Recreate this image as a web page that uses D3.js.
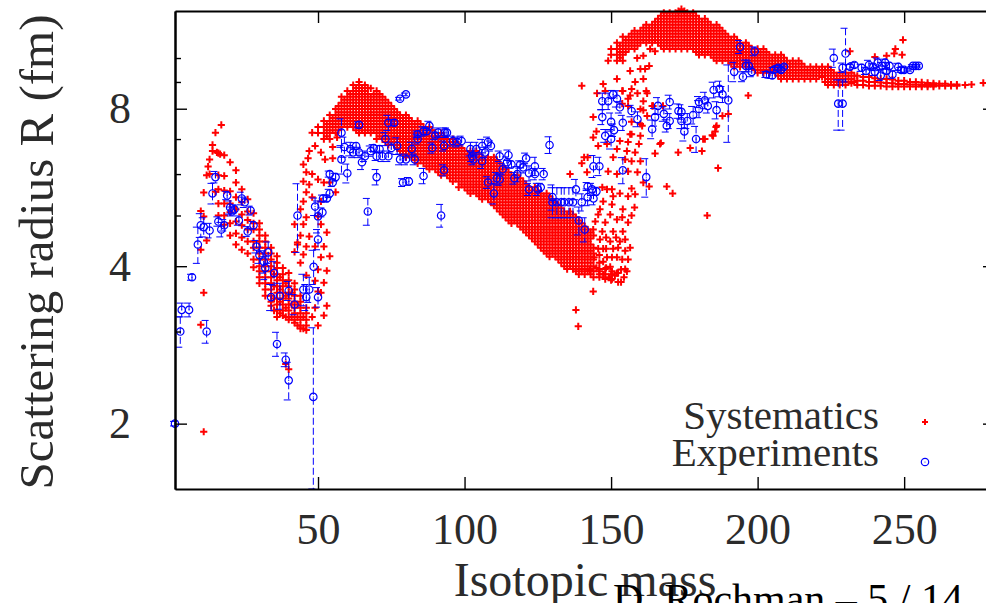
<!DOCTYPE html>
<html>
<head>
<meta charset="utf-8">
<script src="https://cdn.jsdelivr.net/npm/d3@7"></script>
<style>
  html, body { margin: 0; padding: 0; background: #fff; overflow: hidden; }
  text { font-family: "Liberation Serif", serif; fill: #2b2b2b; }
</style>
</head>
<body>
<div id="chart"></div>
<script>
// each row: isotopic mass, then the radii read at that mass
const sysFalling = [
  [16,6.58,5.97,5.61,5.27,5.0],
  [18,6.52,5.95,5.58,5.27,5.0,4.8],
  [20,6.32,5.56,5.27,5.07,4.83,4.58],
  [22,6.1,5.78,5.42,5.14,4.87,4.62,4.4],
  [24,5.61,5.3,5.02,4.79,4.54,4.3],
  [26,5.37,5.09,4.9,4.7,4.46,4.23],
  [28,5.05,4.83,4.7,4.46,4.34,4.12,3.98],
  [30,4.83,4.7,4.58,4.46,4.34,4.23,4.12,4.0,3.91,3.81,3.71],
  [32,4.58,4.46,4.34,4.23,4.12,4.0,3.91,3.81,3.71,3.61,3.51],
  [34,4.34,4.23,4.12,4.0,3.91,3.81,3.71,3.61,3.51,3.42,3.36],
  [36,4.18,4.06,3.97,3.86,3.76,3.66,3.56,3.47,3.38,3.29,3.2],
  [38,3.97,3.86,3.76,3.66,3.56,3.47,3.38,3.29,3.22],
  [40,3.88,3.76,3.66,3.56,3.47,3.38,3.29,3.2,3.16],
  [42,3.71,3.61,3.51,3.42,3.33,3.25,3.16,3.12],
  [44,3.51,3.42,3.33,3.25,3.16,3.08,3.04],
  [46,3.33,3.25,3.16,3.08,3.02],
  [35,3.86,3.66,3.47,3.29],
  [37,3.81,3.61,3.42,3.25],
  [39,3.71,3.51,3.33,3.2],
  [41,3.56,3.38,3.2],
  [43,3.38,3.2,3.08],
  [45,3.2,3.04]
];

const sysMiddle = [
  [50,7.38,7.19],
  [52,7.58,7.38,7.19,7.0],
  [54,7.78,7.58,7.38,7.19],
  [56,7.99,7.78,7.58,7.38,7.19],
  [58,8.43,8.21,7.99,7.78,7.58,7.38],
  [60,8.65,8.43,8.21,7.99,7.78,7.58,7.38],
  [62,8.88,8.65,8.43,8.21,7.99,7.78,7.58,7.38],
  [64,9.0,8.88,8.65,8.43,8.21,7.99,7.78,7.58,7.38,7.19],
  [66,8.88,8.65,8.43,8.21,7.99,7.78,7.58,7.38,7.19],
  [68,8.75,8.43,8.21,7.99,7.78,7.58,7.38,7.19],
  [70,8.65,8.43,8.21,7.99,7.78,7.58,7.38,7.19,7.0],
  [72,8.43,8.21,7.99,7.78,7.58,7.38,7.19,7.0],
  [74,8.21,7.99,7.78,7.58,7.38,7.19,7.0,6.82],
  [76,7.99,7.78,7.58,7.38,7.19,7.0,6.82],
  [78,7.78,7.58,7.38,7.19,7.0,6.82,6.64],
  [80,7.78,7.58,7.38,7.19,7.0,6.82,6.64,6.46],
  [82,7.58,7.38,7.19,7.0,6.82,6.64,6.46],
  [84,7.58,7.38,7.19,7.0,6.82,6.64,6.46,6.29],
  [86,7.38,7.19,7.0,6.82,6.64,6.46,6.29],
  [88,7.38,7.19,7.0,6.82,6.64,6.46,6.29,6.13],
  [90,7.19,7.0,6.82,6.64,6.46,6.29,6.13],
  [92,7.19,7.0,6.82,6.64,6.46,6.29,6.13,5.97],
  [94,7.0,6.82,6.64,6.46,6.29,6.13,5.97],
  [96,7.0,6.82,6.64,6.46,6.29,6.13,5.97,5.81],
  [98,6.82,6.64,6.46,6.29,6.13,5.97,5.81,5.66],
  [100,6.64,6.46,6.29,6.13,5.97,5.81,5.66],
  [102,6.64,6.46,6.29,6.13,5.97,5.81,5.66,5.51],
  [104,6.64,6.46,6.29,6.13,5.97,5.81,5.66,5.51],
  [106,6.46,6.29,6.13,5.97,5.81,5.66,5.51,5.37],
  [108,6.46,6.29,6.13,5.97,5.81,5.66,5.51,5.37],
  [110,6.46,6.29,6.13,5.97,5.81,5.66,5.51,5.37,5.23],
  [112,6.29,6.13,5.97,5.81,5.66,5.51,5.37,5.23,5.09],
  [114,6.13,5.97,5.81,5.66,5.51,5.37,5.23,5.09,4.96],
  [116,5.97,5.81,5.66,5.51,5.37,5.23,5.09,4.96,4.83],
  [118,5.97,5.81,5.66,5.51,5.37,5.23,5.09,4.96,4.83],
  [120,5.81,5.66,5.51,5.37,5.23,5.09,4.96,4.83,4.7],
  [122,5.66,5.51,5.37,5.23,5.09,4.96,4.83,4.7,4.58],
  [124,5.66,5.51,5.37,5.23,5.09,4.96,4.83,4.7,4.58,4.46],
  [126,5.51,5.37,5.23,5.09,4.96,4.83,4.7,4.58,4.46,4.34],
  [128,5.51,5.37,5.23,5.09,4.96,4.83,4.7,4.58,4.46,4.34,4.23],
  [130,5.37,5.23,5.09,4.96,4.83,4.7,4.58,4.46,4.34,4.23],
  [132,5.23,5.09,4.96,4.83,4.7,4.58,4.46,4.34,4.23,4.12],
  [134,5.09,4.96,4.83,4.7,4.58,4.46,4.34,4.23,4.12,4.0],
  [136,5.09,4.96,4.83,4.7,4.58,4.46,4.34,4.23,4.12,4.0],
  [138,4.96,4.83,4.7,4.58,4.46,4.34,4.23,4.12,4.0,3.91],
  [140,4.83,4.7,4.58,4.46,4.34,4.23,4.12,4.0,3.91],
  [142,4.7,4.58,4.46,4.34,4.23,4.12,4.0,3.91],
  [144,4.58,4.34,4.23,4.12,4.0,3.91,3.81],
  [146,4.06,3.95,3.86,3.81],
  [148,3.95,3.86,3.78],
  [150,3.86,3.76],
  // in-between masses, half a step up the radius
  [53,7.48,7.28,7.09],
  [55,7.68,7.48,7.28],
  [57,8.1,7.88,7.68,7.48,7.28],
  [59,8.32,8.1,7.88,7.68,7.48],
  [61,8.54,8.32,8.1,7.88,7.68,7.48],
  [63,8.76,8.54,8.32,8.1,7.88,7.68,7.48,7.28],
  [65,8.76,8.54,8.32,8.1,7.88,7.68,7.48,7.28],
  [67,8.76,8.54,8.32,8.1,7.88,7.68,7.48,7.28],
  [69,8.54,8.32,8.1,7.88,7.68,7.48,7.28],
  [71,8.54,8.32,8.1,7.88,7.68,7.48,7.28,7.09],
  [73,8.32,8.1,7.88,7.68,7.48,7.28,7.09,6.91],
  [75,8.1,7.88,7.68,7.48,7.28,7.09,6.91],
  [77,7.88,7.68,7.48,7.28,7.09,6.91,6.73],
  [79,7.68,7.48,7.28,7.09,6.91,6.73,6.55],
  [81,7.68,7.48,7.28,7.09,6.91,6.73,6.55],
  [83,7.48,7.28,7.09,6.91,6.73,6.55,6.38],
  [85,7.48,7.28,7.09,6.91,6.73,6.55,6.38],
  [87,7.28,7.09,6.91,6.73,6.55,6.38,6.21],
  [89,7.28,7.09,6.91,6.73,6.55,6.38,6.21],
  [91,7.09,6.91,6.73,6.55,6.38,6.21,6.05],
  [93,7.09,6.91,6.73,6.55,6.38,6.21,6.05],
  [95,6.91,6.73,6.55,6.38,6.21,6.05,5.89],
  [97,6.91,6.73,6.55,6.38,6.21,6.05,5.89],
  [99,6.73,6.55,6.38,6.21,6.05,5.89,5.73],
  [101,6.55,6.38,6.21,6.05,5.89,5.73,5.58],
  [103,6.55,6.38,6.21,6.05,5.89,5.73,5.58],
  [105,6.55,6.38,6.21,6.05,5.89,5.73,5.58,5.44],
  [107,6.38,6.21,6.05,5.89,5.73,5.58,5.44],
  [109,6.38,6.21,6.05,5.89,5.73,5.58,5.44,5.3],
  [111,6.38,6.21,6.05,5.89,5.73,5.58,5.44,5.3,5.16],
  [113,6.21,6.05,5.89,5.73,5.58,5.44,5.3,5.16,5.02],
  [115,6.05,5.89,5.73,5.58,5.44,5.3,5.16,5.02,4.89],
  [117,5.89,5.73,5.58,5.44,5.3,5.16,5.02,4.89],
  [119,5.89,5.73,5.58,5.44,5.3,5.16,5.02,4.89,4.76],
  [121,5.73,5.58,5.44,5.3,5.16,5.02,4.89,4.76,4.64],
  [123,5.58,5.44,5.3,5.16,5.02,4.89,4.76,4.64,4.52],
  [125,5.58,5.44,5.3,5.16,5.02,4.89,4.76,4.64,4.52,4.4],
  [127,5.44,5.3,5.16,5.02,4.89,4.76,4.64,4.52,4.4,4.28],
  [129,5.44,5.3,5.16,5.02,4.89,4.76,4.64,4.52,4.4,4.28,4.17],
  [131,5.3,5.16,5.02,4.89,4.76,4.64,4.52,4.4,4.28,4.17],
  [133,5.16,5.02,4.89,4.76,4.64,4.52,4.4,4.28,4.17,4.06],
  [135,5.02,4.89,4.76,4.64,4.52,4.4,4.28,4.17,4.06,3.95],
  [137,5.02,4.89,4.76,4.64,4.52,4.4,4.28,4.17,4.06,3.95],
  [139,4.89,4.76,4.64,4.52,4.4,4.28,4.17,4.06,3.95,3.86],
  [141,4.76,4.64,4.52,4.4,4.28,4.17,4.06,3.95,3.86],
  [143,4.64,4.52,4.4,4.28,4.17,4.06,3.95,3.86]
];

const sysUpper = [
  [150,10.41,10.14],
  [152,10.69,10.41,10.14,9.88],
  [154,10.98,10.69,10.41,10.14],
  [156,10.98,10.69,10.41],
  [158,11.28,10.98,10.69,10.41],
  [160,11.28,10.98,10.69],
  [162,11.58,11.28,10.98,10.69],
  [164,11.58,11.28,10.98,10.69],
  [166,11.89,11.58,11.28,10.98,10.69],
  [168,12.2,11.89,11.58,11.28,10.98,10.69,10.41],
  [170,12.2,11.89,11.58,11.28,10.98,10.69,10.41],
  [172,12.2,11.89,11.58,11.28,10.98,10.69,10.41],
  [174,12.4,12.2,11.89,11.58,11.28,10.98,10.69,10.41],
  [176,12.2,11.89,11.58,11.28,10.98,10.69,10.41],
  [178,12.2,11.89,11.58,11.28,10.98,10.69,10.41],
  [180,11.89,11.58,11.28,10.98,10.69,10.41,10.14],
  [182,11.89,11.58,11.28,10.98,10.69,10.41,10.14],
  [184,11.58,11.28,10.98,10.69,10.41,10.14],
  [186,11.58,11.28,10.98,10.69,10.41,10.14,9.88],
  [188,11.28,10.98,10.69,10.41,10.14,9.88],
  [190,10.98,10.69,10.41,10.14,9.88],
  [192,10.98,10.69,10.41,10.14,9.88,9.62],
  [194,10.69,10.41,10.14,9.88,9.62],
  [196,10.69,10.41,10.14,9.88,9.62],
  [198,10.41,10.14,9.88,9.62],
  [200,10.41,10.14,9.88,9.62,9.37],
  [202,10.41,10.14,9.88,9.62,9.37],
  [204,10.14,9.88,9.62,9.37],
  [206,10.14,9.88,9.62,9.37],
  [208,10.14,9.88,9.62,9.37,9.12],
  [210,9.88,9.62,9.37,9.12],
  [212,9.88,9.62,9.37,9.12],
  [214,9.88,9.62,9.37,9.12],
  [216,9.62,9.37,9.12],
  [218,9.62,9.37,9.12],
  [220,9.62,9.37,9.12],
  [222,9.62,9.37,9.2],
  [224,9.62,9.37,9.12,8.88],
  [226,9.37,9.12,8.88],
  [228,9.37,9.12,8.88],
  [230,9.37,9.12,8.88],
  [232,9.37,9.12,8.95],
  [234,9.25,9.05,8.88],
  [236,9.2,9.05,8.88],
  [238,9.2,9.0,8.85],
  [240,9.15,9.0,8.85],
  [242,9.12,8.98,8.85],
  [244,9.12,8.96,8.82],
  [246,9.1,8.95,8.82],
  [248,9.05,8.92,8.82],
  [250,9.05,8.92,8.82],
  [252,9.0,8.9,8.82],
  [254,9.0,8.9,8.82],
  [256,8.98,8.88,8.82],
  [258,8.96,8.88,8.82],
  [260,8.95,8.88,8.82],
  [262,8.93,8.85],
  [264,8.93,8.85],
  [266,8.9,8.85],
  [268,8.9,8.85],
  // in-between masses, half a step up the radius
  [153,10.55,10.27,10.01],
  [155,10.83,10.55,10.27],
  [157,11.13,10.83,10.55],
  [159,11.13,10.83,10.55],
  [161,11.43,11.13,10.83],
  [163,11.43,11.13,10.83],
  [165,11.73,11.43,11.13,10.83],
  [167,12.04,11.73,11.43,11.13,10.83,10.55],
  [169,12.04,11.73,11.43,11.13,10.83,10.55],
  [171,12.04,11.73,11.43,11.13,10.83,10.55],
  [173,12.3,12.04,11.73,11.43,11.13,10.83,10.55],
  [175,12.3,12.04,11.73,11.43,11.13,10.83,10.55],
  [177,12.04,11.73,11.43,11.13,10.83,10.55],
  [179,12.04,11.73,11.43,11.13,10.83,10.55,10.27],
  [181,11.73,11.43,11.13,10.83,10.55,10.27],
  [183,11.73,11.43,11.13,10.83,10.55,10.27],
  [185,11.43,11.13,10.83,10.55,10.27,10.01],
  [187,11.43,11.13,10.83,10.55,10.27,10.01],
  [189,11.13,10.83,10.55,10.27,10.01],
  [191,10.83,10.55,10.27,10.01,9.75],
  [193,10.83,10.55,10.27,10.01,9.75],
  [195,10.55,10.27,10.01,9.75],
  [197,10.55,10.27,10.01,9.75],
  [199,10.27,10.01,9.75,9.49],
  [201,10.27,10.01,9.75,9.49],
  [203,10.27,10.01,9.75,9.49],
  [205,10.01,9.75,9.49],
  [207,10.01,9.75,9.49,9.25],
  [209,10.01,9.75,9.49,9.25],
  [211,9.75,9.49,9.25],
  [213,9.75,9.49,9.25],
  [215,9.75,9.49,9.25],
  [217,9.49,9.25],
  [219,9.49,9.25],
  [221,9.49,9.25],
  [223,9.49,9.25,9.0],
  [225,9.49,9.25,9.0],
  [227,9.25,9.0],
  [229,9.25,9.0],
  [231,9.25,9.0],
  [233,9.25,9.0]
];

// isolated crosses: mass, radius
const sysScatter = [
  [15,7.2],[17,7.45],[14,6.82],[14,6.64],[13,6.4],[12.5,6.2],[15.5,6.6],[16.6,6.55],[12,5.97],[13,6.0],
  [11,5.53],[15,5.55],[10,5.1],[11,4.98],[12,4.48],[11,3.56],[10,3.09],[11,1.93],[10,4.3],[40,2.54],[39,2.6],
  [43,4.44],[42,4.26],[43,4.4],[42,4.81],[44,4.06],[44,4.58],[44,5.14],[45,4.21],[45,5.32],[45,5.81],[45,4.81],
  [45,6.26],[46,3.84],[46,4.36],[46,4.96],[46,5.54],[46,6.05],[46.6,6.43],[47,4.56],[47,5.73],[47,6.64],[48,3.2],
  [48,7.2],[48,5.42],[48,6.0],[49,3.33],[49,3.75],[49,4.36],[49,6.79],[50,4.98],[50,3.08],[50,3.58],[50,3.94],
  [50,5.86],[51,3.56],[51,4.16],[51,4.81],[51,5.32],[51,6.6],[52,3.22],[52,3.72],[52,4.36],[52,5.78],[52.4,6.4],
  [53,3.36],[53,3.92],[53,4.64],[54,4.18],[54,5.78],[54,7.0],[55,6.76],[55,6.43],[56,5.54],[56.5,7.05],
  [152.4,3.73],[154.8,3.95],[152,3.88],[149.7,3.99],[148.6,4.16],[152,4.16],[154.8,4.28],[150.7,4.32],[147.3,4.32],
  [146.2,4.5],[149.7,4.46],[153,4.46],[147,4.66],[150.7,4.66],[154,4.66],[143.9,4.7],[144.6,4.87],[148,4.85],[152,4.91],
  [155.8,4.85],[145.6,5.02],[149.7,5.02],[153.8,4.96],[157,5.0],[146.2,5.14],[150.3,5.25],[154,5.14],[158,5.18],
  [147.3,5.32],[150.7,5.44],[155.8,5.44],[158.2,5.49],[148.6,5.61],[150.3,5.61],[153,5.51],[157,5.63],[147,5.66],
  [163,5.68],[161,5.78],[159,6.05],[155.8,6.07],[152,6.0],[149,6.07],[141.8,6.05],[136,6.0],[142,6.46],[140.8,6.46],
  [140,6.29],[145,7.24],[143.9,7.05],[143.9,7.71],[145.2,8.56],[148,8.65],[145.6,6.79],[148.6,6.85],[152,6.7],
  [155.4,6.64],[158.2,6.6],[150.7,6.46],[154.8,6.4],[160,6.35],[157,6.35],[165,6.57],[167,6.88],[172.9,6.6],[177,6.73],
  [181,6.64],[169,5.68],[171,5.51],[182.8,5.0],[143.9,3.58],[138,3.3],[138.8,3.07],[186.5,6.16],[162,8.65],[159,8.56],
  [156.5,8.48],[153.8,8.65],[161,8.27],[155.8,8.1],[161,7.95],[164.3,8.1],[167.7,8.1],[157,7.55],[160,7.48],[156.5,7.15],
  [160,7.1],[153,6.94],[155.8,6.91],[159.5,6.85],[166.7,6.85],[181.4,7.0],[184.8,7.1],[185.8,7.38],[140,8.85],
  [149,9.88],[152,9.12],[147.3,8.92],[154,9.88],[156.5,9.45],[158.9,10.0],[161,10.1],[163.3,10.41],[165,10.3],[161.6,9.53],
  [160,9.53],[163,9.66],[161,9.12],[158.2,9.0],[154,8.65],[157,8.73],[162.3,8.56],[155.8,8.36],[153.8,8.18],[160,7.99],
  [164,8.1],[162.3,7.75],[160.6,7.42],[157,7.15],[186,7.42],[190,7.82],[188,7.75],[196.8,8.48],[185.5,7.24],[182,7.0],
  [184.5,7.12],[231.5,10.3],[249.6,10.83],[247,10.41],[249.3,10.14],[246.6,10.2],[244,10.1],[240,10.05],[277,8.96],
  [273,8.9],[270.8,8.88],
  // the tip of the band and the streaks rising from it
  [145,3.97],[146,3.91],[147.3,4.08],[147.3,3.86],[148.3,3.97],[149.3,3.81],[150.3,3.91],[150.3,3.78],[151.3,3.84],
  [152.4,3.88],[153.4,3.73],[153.4,3.94],[154.4,3.81],[155.4,3.91],[146,4.2],[148.3,4.32],[150.3,4.16],[152.4,4.34],
  [153.8,4.12],[148.3,4.54],[151.7,4.54],[154.8,4.5],[155.8,4.12],[156.5,4.34],[145.6,4.32],[144.2,4.16],[142.8,3.93]
];

// mass, radius, error
const expPoints = [
  [9,4.4,.35],[10,4.79,.25],[11,4.75,.2],[13,4.68,.15],[16,4.87,.1],[17,4.7,.15],[18,4.79,.12],[14,5.51,.25],[15,5.92,.15],
  [19,5.46,.1],[24,5.39,.15],[25,5.3,.12],[20,5.18,.15],[21.5,5.14,.1],[20.6,5.09,.1],[27,5.11,.1],[23,4.89,.1],[28,4.79,.08],
  [26,4.66,.1],[29,4.36,.12],[43,5.0,.75],[49,5.2,.2],[50,4.98,.35],[51.5,5.07,.1],[50,4.5,.2],[51.7,5.39,.08],[53,5.39,.08],
  [54,5.51,.1],[55,5.78,.1],[56,5.92,.1],[54,6.0,.08],[58,7.2,.45],[59,6.76,.3],[58,6.4,.4],[60,6.02,.25],[61,6.7,.2],
  [62,6.6,.15],[63,6.79,.1],[64,6.6,.15],[65,6.32,.2],[66,6.49,.15],[64,7.45,.1],[68,6.64,.15],[69,6.73,.1],[70,6.49,.12],
  [71,6.7,.1],[70,5.92,.2],[67,5.09,.3],[74,7.52,.25],[76,7.52,.1],[73,7.0,.2],[77,6.79,.25],[75,6.73,.15],[72,6.49,.15],
  [74,6.49,.15],[78,8.36,.05],[80,8.52,.05],[78,6.4,.15],[80,6.4,.15],[83,6.4,.15],[82,6.7,.2],[79,5.78,.1],[81,5.81,.1],
  [86,5.95,.2],[92,5.0,.25],[84,7.0,.15],[84,7.15,.1],[86,7.24,.15],[87,7.24,.1],[88,7.42,.15],[89,6.73,.15],[90,7.1,.12],
  [91,7.2,.15],[94,7.2,.15],[93,6.79,.15],[93,6.1,.15],
  [1.2,2.0,.02],[3,3.0,.2],[3.5,3.3,.1],[6,3.3,.1],[7,3.81,.05],[12,3.0,.15],[30,4.2,.15],[33,4.25,.2],[31.5,4.08,.2],
  [32,3.97,.2],[35,3.88,.2],[40,3.59,.15],[37,3.51,.2],[34,3.49,.2],[42,3.38,.15],[45,3.61,.25],[47,3.61,.2],[46,3.49,.2],
  [50,3.49,.15],[48.5,3.99,.3],[36,2.84,.15],[39,2.65,.08],[40,2.42,.2],[48.4,2.25,.8],
  [93.3,7.2,.15],[96,6.94,.15],[99,6.94,.15],[97.5,6.91,.15],[108,6.91,.15],[109,6.79,.15],[129,6.82,.25],[106,6.79,.2],
  [104,6.7,.2],[102,6.7,.2],[102.6,6.49,.15],[107,6.6,.15],[112,6.49,.15],[115,6.52,.15],[114.5,6.32,.15],[116,6.26,.1],
  [119,6.26,.1],[121,6.43,.15],[120,6.18,.15],[124,6.21,.25],[122,6.02,.2],[124,6.0,.15],[127,6.0,.15],[106,6.35,.2],
  [103,6.4,.15],[113,6.13,.15],[111,5.89,.15],[112,5.86,.15],[108,5.78,.15],[110,5.51,.25],[118,6.0,.2],[117,5.89,.15],
  [122,5.61,.15],[125,5.61,.15],[126,5.66,.1],
  [130,5.42,.3],[130,5.3,.35],[131.5,5.3,.35],[133,5.3,.35],[134,5.3,.35],[135.6,5.3,.35],[137,5.3,.35],[138,5.61,.25],
  [140,5.3,.2],[142,5.42,.2],[142,5.68,.1],[143.5,5.61,.15],[145,5.56,.1],[144,5.39,.15],[139,4.89,.3],[141,4.7,.25],
  [144,6.21,.3],[146,6.21,.25],[154,6.1,.35],[162,5.92,.5],
  [147,7.71,.25],[148,7.1,.2],[150,7.55,.3],[151,7.28,.2],[150,7.0,.3],[154,7.52,.25],[153,8.05,.2],[157,7.92,.2],[159,7.64,.25],
  [152,8.36,.3],[150.7,8.52,.15],[147,8.27,.3],[149,8.27,.3],[164,7.31,.3],[166,8.1,.3],[165,7.71,.3],[168,7.82,.25],[169,7.42,.2],
  [170,8.24,.25],[170,7.58,.25],[173,7.92,.25],[174,7.89,.25],[174,7.58,.25],[175,7.24,.3],[176,7.58,.25],[178,7.78,.3],[179,7.0,.4],
  [180,8.24,.2],[180,7.99,.3],[182,8.3,.3],[183,8.1,.25],[186,7.95,.3],[185,8.69,.3],[187,8.73,.3],[188,8.52,.3],[190,8.3,1.4],
  [192,9.41,.4],[194,10.5,.3],[195,9.21,.2],[196,9.66,.25],[197,9.66,.25],[198,9.41,.2],[199,10.3,.2],[203,9.3,.12],[205,9.26,.12],
  [205.5,9.49,.1],[207,9.58,.1],[208,9.49,.1],[209,9.62,.08],[226,10.0,.4],[230,10.2,1.2],[229,9.58,.2],[227.5,8.18,.9],[229,8.18,.9],
  [231.5,9.62,.1],[233,9.7,.1],[235.5,9.58,.15],[237,9.45,.15],[238,9.7,.2],[239.5,9.62,.15],[241,9.8,.2],[240,9.41,.15],[242,9.26,.2],
  [242.5,9.66,.15],[243.5,9.8,.15],[244,9.45,.1],[245,9.66,.15],[246,9.3,.15],[248,9.62,.15],[249,9.49,.1],[250,9.49,.1],[252,9.49,.05],
  [253,9.66,.05],[254,9.66,.05],[255,9.66,.05]
];

const xTicks = [50, 100, 150, 200, 250];
const yTicksMajor = [2, 4, 8];
const yTicksMinor = [3, 5, 6, 7, 9, 10];
const legendNames = ["Systematics", "Experiments"];

const width = 986;
const height = 603;

const svg = d3.select("#chart").append("svg")
    .attr("width", width)
    .attr("height", height)
    .style("display", "block");

const x = d3.scaleLinear().domain([1.2, 281]).range([175, 995]);
const y = d3.scaleLog().domain([1.5, 12.3]).range([489, 11]);

// flatten the rows to points
const systematics = [];
[sysFalling, sysMiddle, sysUpper].forEach(function (rows) {
  rows.forEach(function (row) {
    row.slice(1).forEach(function (r) { systematics.push({ a: row[0], r: r }); });
  });
});
sysScatter.forEach(function (p) { systematics.push({ a: p[0], r: p[1] }); });

const experiments = expPoints.map(function (p) {
  return { a: p[0], r: p[1], e: p[2] };
});

const crossPath = "M-3.6,0H3.6M0,-3.6V3.6";

svg.append("g").selectAll("path")
    .data(systematics)
    .enter()
    .append("path")
    .attr("transform", d => "translate(" + x(d.a) + "," + y(d.r) + ")")
    .attr("d", crossPath)
    .attr("stroke", "#ff0000")
    .attr("stroke-width", 2)
    .attr("fill", "none");

// error bars, dashed like the gnuplot line type
svg.append("g").selectAll("path")
    .data(experiments)
    .enter()
    .append("path")
    .attr("d", function (d) {
      const top = y(d.r + d.e), bottom = Math.min(y(d.r - d.e), 489), px = x(d.a);
      return "M" + (px - 5) + "," + top + "H" + (px + 5) + "M" + px + "," + top + "V" + bottom +
             "M" + (px - 5) + "," + bottom + "H" + (px + 5);
    })
    .attr("stroke", "#0000ff")
    .attr("stroke-width", 1)
    .attr("stroke-dasharray", "7 3")
    .attr("fill", "none");

const expMarks = svg.append("g").selectAll("g")
    .data(experiments)
    .enter()
    .append("g")
    .attr("transform", d => "translate(" + x(d.a) + "," + y(d.r) + ")");
expMarks.append("circle")
    .attr("r", 3.7)
    .attr("fill", "none")
    .attr("stroke", "#0000ff")
    .attr("stroke-width", 1.2);
expMarks.append("circle")
    .attr("r", 0.6)
    .attr("fill", "#0000ff");

// axes
function styleAxis(g) {
  g.select(".domain").attr("stroke", "#000").attr("stroke-width", 2);
  g.selectAll("line").attr("stroke", "#000").attr("stroke-width", 1.4);
  g.selectAll("text").style("font-family", "Liberation Serif").style("font-size", "44px").attr("fill", "#2b2b2b");
}

svg.append("g")
    .attr("transform", "translate(0,489)")
    .call(d3.axisBottom(x).tickValues(xTicks).tickSizeInner(-12).tickSizeOuter(0).tickPadding(24).tickFormat(d3.format("d")))
    .call(styleAxis);
svg.append("g")
    .attr("transform", "translate(0,11)")
    .call(d3.axisTop(x).tickValues(xTicks).tickSizeInner(-12).tickSizeOuter(0).tickFormat(""))
    .call(styleAxis);
svg.append("g")
    .attr("transform", "translate(175,0)")
    .call(d3.axisLeft(y).tickValues(yTicksMajor).tickSizeInner(-12).tickSizeOuter(0).tickPadding(44).tickFormat(d3.format("d")))
    .call(styleAxis);
svg.append("g")
    .attr("transform", "translate(175,0)")
    .call(d3.axisLeft(y).tickValues(yTicksMinor).tickSizeInner(-6).tickSizeOuter(0).tickFormat(""))
    .call(styleAxis);
svg.append("g")
    .attr("transform", "translate(995,0)")
    .call(d3.axisRight(y).tickValues(yTicksMajor).tickSizeInner(-12).tickSizeOuter(0).tickFormat(""))
    .call(styleAxis);

// legend
legendNames.forEach(function (name, i) {
  svg.append("text")
      .attr("x", 879)
      .attr("y", 429 + i * 37)
      .attr("text-anchor", "end")
      .style("font-size", "41px")
      .text(name);
});
svg.append("path")
    .attr("transform", "translate(925,422)")
    .attr("d", "M-3,0H3M0,-3V3")
    .attr("stroke", "#ff0000")
    .attr("stroke-width", 2);
svg.append("circle").attr("cx", 925).attr("cy", 462).attr("r", 3.7).attr("fill", "none").attr("stroke", "#0000ff").attr("stroke-width", 1.2);
svg.append("circle").attr("cx", 925).attr("cy", 462).attr("r", 0.6).attr("fill", "#0000ff");

// titles
svg.append("text")
    .attr("transform", "translate(53,252) rotate(-90)")
    .attr("text-anchor", "middle")
    .style("font-size", "49px")
    .text("Scattering radius R (fm)");
svg.append("text")
    .attr("x", 585)
    .attr("y", 596)
    .attr("text-anchor", "middle")
    .style("font-size", "48px")
    .text("Isotopic mass");
svg.append("text")
    .attr("x", 963)
    .attr("y", 613)
    .attr("text-anchor", "end")
    .style("font-size", "42px")
    .style("fill", "#000")
    .text("D. Rochman – 5 / 14");
</script>
</body>
</html>
